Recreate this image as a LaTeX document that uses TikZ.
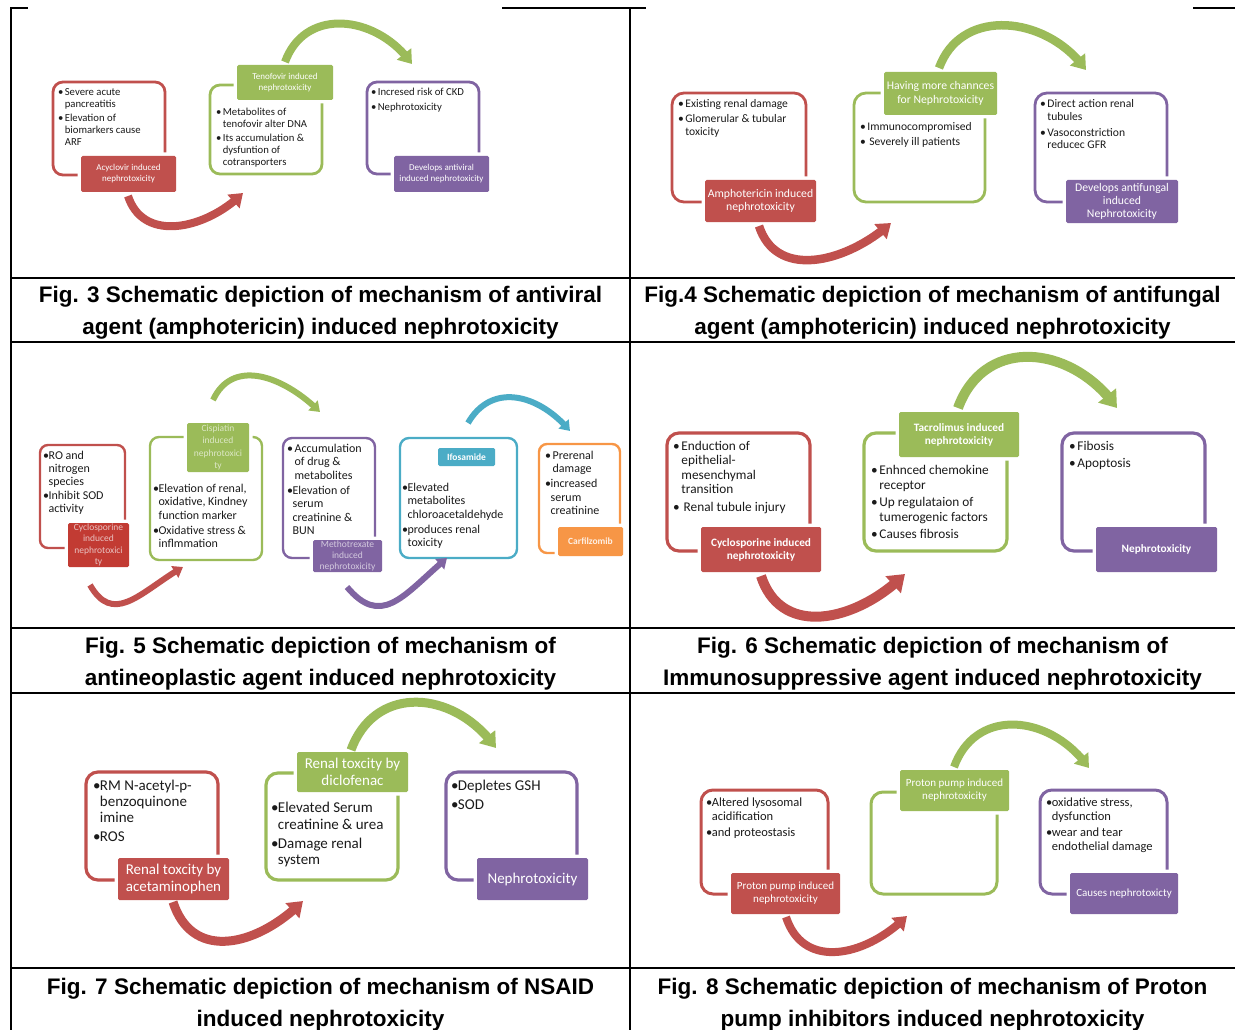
\documentclass[tikz,border=0pt]{standalone}
\usepackage{fontspec}
\setmainfont{Carlito}
\newfontfamily\capfont{Liberation Sans}
\usetikzlibrary{arrows.meta,bending}
\definecolor{cR}{HTML}{C0504D}
\definecolor{cG}{HTML}{9BBB59}
\definecolor{cP}{HTML}{8064A2}
\definecolor{cA}{HTML}{4BACC6}
\definecolor{cO}{HTML}{F79646}
\definecolor{cRd}{HTML}{C23B33}
\definecolor{txtc}{HTML}{1A1A1A}
\newcommand\FL{\rule{0pt}{0.85em}}
\newcommand\bs{\makebox[0.62em][l]{\textbullet}}
\newcommand\hs{\hspace*{0.62em}}
\newcommand\bt{\makebox[0.45em][l]{\textbullet}}
\newcommand\indT{\hspace*{0.45em}}
\newcommand\OB[7]{\node[obox=#2, minimum width={(#5-#3)*1pt}, minimum height={(#6-#4)*1pt}, #7] (#1) at ({(#3+#5)/2},{-(#4+#6)/2}) {};}
\newcommand\LB[8]{\node[lbox=#2, minimum width={(#5-#3)*1pt}, minimum height={(#6-#4)*1pt}, #7] (#1) at ({(#3+#5)/2},{-(#4+#6)/2}) {#8};}
\tikzset{
  gridl/.style={line width=2.3pt, black},
  obox/.style={draw=#1, line width=2.8pt, rounded corners=10pt, inner sep=0pt},
  lbox/.style={fill=#1, rounded corners=1.5pt, preaction={draw=white, line width=7pt}, text=white, align=center, inner sep=0pt},
  txt/.style={inner sep=0pt, align=left, anchor=north west, text=txtc},
  arr/.style 2 args={draw=#1, line width=#2, -{Triangle[length=0pt 1.6, width=0pt 2.2]}},
  captxt/.style={font=\capfont\bfseries\fontsize{22.5}{27}\selectfont, anchor=base, inner sep=0pt},
}
\begin{document}
\begin{tikzpicture}[x=1pt,y=1pt]
\useasboundingbox (0,0) rectangle (1235,-1030);
% ---------- table lines
\draw[gridl] (10,-8) -- (28,-8);
\draw[gridl] (502,-8) -- (646,-8);
\draw[gridl] (1193,-8) -- (1235,-8);
\draw[gridl] (11,-8) -- (11,-1030);
\draw[gridl] (630,-8) -- (630,-1030);
\foreach \yy in {278,342,628,693,968} {\draw[gridl] (11,-\yy) -- (1235,-\yy);}
% ---------- captions
\node[captxt] (c3a) at (320.5,-302) {Fig. 3 Schematic depiction of mechanism of antiviral};
\node[captxt] (c3b) at (320.5,-334) {agent (amphotericin) induced nephrotoxicity};
\node[captxt] (c4a) at (932.5,-302) {Fig.4 Schematic depiction of mechanism of antifungal};
\node[captxt] (c4b) at (932.5,-334) {agent (amphotericin) induced nephrotoxicity};
\node[captxt] (c5a) at (320.5,-653) {Fig. 5 Schematic depiction of mechanism of};
\node[captxt] (c5b) at (320.5,-685) {antineoplastic agent induced nephrotoxicity};
\node[captxt] (c6a) at (932.5,-653) {Fig. 6 Schematic depiction of mechanism of};
\node[captxt] (c6b) at (932.5,-685) {Immunosuppressive agent induced nephrotoxicity};
\node[captxt] (c7a) at (320.5,-994) {Fig. 7 Schematic depiction of mechanism of NSAID};
\node[captxt] (c7b) at (320.5,-1026) {induced nephrotoxicity};
\node[captxt] (c8a) at (932.5,-994) {Fig. 8 Schematic depiction of mechanism of Proton};
\node[captxt] (c8b) at (932.5,-1026) {pump inhibitors induced nephrotoxicity};

% ================= FIG 3
\OB{r3}{cR}{53}{82}{165}{175}{}
\OB{g3}{cG}{210}{85}{322}{174}{}
\OB{p3}{cP}{367}{82}{479}{174}{}
\LB{r3l}{cR}{81}{156}{176}{192}{font=\fontsize{9}{11}\selectfont}{Acyclovir induced\\nephrotoxicity}
\LB{g3l}{cG}{237}{65}{333}{100}{font=\fontsize{9}{11}\selectfont}{Tenofovir induced\\nephrotoxicity}
\LB{p3l}{cP}{394}{156}{489}{192}{font=\fontsize{9}{11}\selectfont}{Develops antiviral\\induced nephrotoxicity}
\node[txt, font=\fontsize{10.7}{12}\selectfont] (t3r) at (58,-86.6) {\FL\bs Severe acute\\\hs pancreatitis\\[2pt]\bs Elevation of\\\hs biomarkers cause\\\hs ARF};
\node[txt, font=\fontsize{10.7}{12}\selectfont] (t3g) at (216,-106.6) {\FL\bs Metabolites of\\\hs tenofovir alter DNA\\[2pt]\bs Its accumulation \&\\\hs dysfuntion of\\\hs cotransporters};
\node[txt, font=\fontsize{10.7}{12}\selectfont] (t3p) at (371,-86.6) {\FL\bs Incresed risk of CKD\\[3pt]\bs Nephrotoxicity};
\coordinate (a3s) at (128,-196); \coordinate (a3e) at (243,-193);
\draw[arr={cR}{8pt}] (a3s) to[out=-72,in=-135,looseness=1.12] (a3e);
\coordinate (b3s) at (285,-62); \coordinate (b3e) at (412,-64);
\draw[arr={cG}{8pt}] (b3s) to[out=70,in=125,looseness=1.2] (b3e);

% ================= FIG 4
\OB{r4}{cR}{672}{93}{806}{202}{rounded corners=12pt}
\OB{g4}{cG}{854}{93}{985}{202}{rounded corners=12pt}
\OB{p4}{cP}{1035}{93}{1167}{202}{rounded corners=12pt}
\LB{r4l}{cR}{705}{180}{816}{222}{font=\fontsize{11.7}{13.5}\selectfont}{Amphotericin induced\\nephrotoxicity}
\LB{g4l}{cG}{884}{72}{997}{115}{font=\fontsize{11.7}{13.5}\selectfont}{Having more channces\\for Nephrotoxicity}
\LB{p4l}{cP}{1066}{180}{1178}{223}{font=\fontsize{11.7}{13}\selectfont}{Develops antifungal\\induced\\Nephrotoxicity}
\node[txt, font=\fontsize{11.6}{13}\selectfont] (t4r) at (678,-97.6) {\FL\bs Existing renal damage\\[2pt]\bs Glomerular \& tubular\\\hs toxicity};
\node[txt, font=\fontsize{11.6}{13}\selectfont] (t4g) at (860,-120.6) {\FL\bs Immunocompromised\\[2pt]\bs\,Severely ill patients};
\node[txt, font=\fontsize{11.6}{12.5}\selectfont] (t4p) at (1040,-97.6) {\FL\bs Direct action renal\\\hs tubules\\[3.5pt]\bs Vasoconstriction\\\hs reducec GFR};
\coordinate (a4s) at (759,-226); \coordinate (a4e) at (891,-223);
\draw[arr={cR}{8.5pt}] (a4s) to[out=-72,in=-138,looseness=1.12] (a4e);
\coordinate (b4s) at (939,-68); \coordinate (b4e) at (1086,-70);
\draw[arr={cG}{8.5pt}] (b4s) to[out=70,in=125,looseness=1.15] (b4e);

% ================= FIG 5
\OB{r5}{cR}{40}{445}{125}{548}{rounded corners=8pt, line width=2.4pt}
\OB{g5}{cG}{150}{437}{262}{560}{rounded corners=9pt, line width=2.4pt}
\OB{p5}{cP}{283}{438}{375}{558}{rounded corners=9pt, line width=2.4pt}
\OB{c5}{cA}{400}{438}{517}{558}{rounded corners=9pt, line width=2.4pt}
\OB{o5}{cO}{539}{444}{620}{553}{rounded corners=8pt, line width=2.4pt}
\LB{r5l}{cRd}{68}{523}{129}{567}{font=\fontsize{9.5}{11.5}\selectfont, text=cR!35!white}{Cyclosporine\\induced\\nephrotoxici\\ty}
\LB{g5l}{cG}{187}{423}{249}{472}{font=\fontsize{9.5}{12.3}\selectfont, text=cG!35!white}{Cispiatin\\induced\\nephrotoxici\\ty}
\LB{p5l}{cP}{313}{540}{382}{572}{font=\fontsize{9.5}{11}\selectfont, text=cP!35!white}{Methotrexate\\induced\\nephrotoxicity}
\LB{c5l}{cA}{438}{448}{495}{466}{font=\bfseries\fontsize{9.5}{11}\selectfont}{Ifosamide}
\LB{o5l}{cO}{558}{527}{623}{556}{font=\bfseries\fontsize{9.5}{11}\selectfont, text=cO!15!white}{Carfilzomib}
\node[txt, font=\fontsize{12}{13.2}\selectfont] (t5r) at (43,-449) {\FL\bt RO and\\\indT nitrogen\\\indT species\\\bt Inhibit SOD\\\indT activity};
\node[txt, font=\fontsize{12}{13.5}\selectfont] (t5g) at (153,-482) {\FL\bt Elevation of renal,\\\indT oxidative, Kindney\\\indT function marker\\[1.5pt]\bt Oxidative stress \&\\\indT inflmmation};
\node[txt, font=\fontsize{12}{13.5}\selectfont] (t5p) at (287,-442) {\FL\bs Accumulation\\\hs of drug \&\\\hs metabolites\\[1.5pt]\bt Elevation of\\\indT serum\\\indT creatinine \&\\\indT BUN};
\node[txt, font=\fontsize{12}{13.5}\selectfont] (t5c) at (402,-481) {\FL\bt Elevated\\\indT metabolites\\\indT chloroacetaldehyde\\[1.5pt]\bt produces renal\\\indT toxicity};
\node[txt, font=\fontsize{12}{13.5}\selectfont] (t5o) at (545,-449) {\FL\bs Prerenal\\\hs damage\\[1.5pt]\bt increased\\\indT serum\\\indT creatinine};
\coordinate (a5s) at (90,-585); \coordinate (a5e) at (183,-567);
\draw[arr={cR}{6pt}] (a5s) to[out=-60,in=-150,looseness=1.3] (a5e);
\coordinate (b5s) at (213,-400); \coordinate (b5e) at (320,-412);
\draw[arr={cG}{6pt}] (b5s) to[out=65,in=135,looseness=1.15] (b5e);
\coordinate (d5s) at (347,-587); \coordinate (d5e) at (447,-558);
\draw[arr={cP}{6pt}] (d5s) to[out=-50,in=-140,looseness=1.35] (d5e);
\coordinate (e5s) at (468,-423); \coordinate (e5e) at (570,-431);
\draw[arr={cA}{6pt}] (e5s) to[out=60,in=130,looseness=1.2] (e5e);

% ================= FIG 6
\OB{r6}{cR}{667}{433}{810}{551}{rounded corners=12pt, line width=3.2pt}
\OB{g6}{cG}{864}{433}{1007}{551}{rounded corners=12pt, line width=3.2pt}
\OB{p6}{cP}{1062}{433}{1205}{551}{rounded corners=12pt, line width=3.2pt}
\LB{r6l}{cR}{701}{527}{821}{572}{font=\bfseries\fontsize{11.3}{13}\selectfont}{Cyclosporine induced\\nephrotoxicity}
\LB{g6l}{cG}{899}{412}{1019}{457}{font=\bfseries\fontsize{11.3}{13}\selectfont}{Tacrolimus induced\\nephrotoxicity}
\LB{p6l}{cP}{1096}{527}{1217}{572}{font=\bfseries\fontsize{11.3}{13}\selectfont}{Nephrotoxicity}
\node[txt, font=\fontsize{13.3}{14.5}\selectfont] (t6r) at (673,-438.7) {\FL\bs Enduction of\\\hs epithelial-\\\hs mesenchymal\\\hs transition\\[3pt]\bs\,Renal tubule injury};
\node[txt, font=\fontsize{13.3}{15}\selectfont] (t6g) at (871,-462.7) {\FL\bs Enhnced chemokine\\\hs receptor\\[2pt]\bs Up regulataion of\\\hs tumerogenic factors\\[2pt]\bs Causes fibrosis};
\node[txt, font=\fontsize{13.3}{14.5}\selectfont] (t6p) at (1069,-438.7) {\FL\bs Fibosis\\[2.5pt]\bs Apoptosis};
\coordinate (a6s) at (761,-576); \coordinate (a6e) at (905,-574);
\draw[arr={cR}{10pt}] (a6s) to[out=-72,in=-135,looseness=1.18] (a6e);
\coordinate (b6s) at (958,-408); \coordinate (b6e) at (1117,-408);
\draw[arr={cG}{10pt}] (b6s) to[out=70,in=125,looseness=1.25] (b6e);

% ================= FIG 7
\OB{r7}{cR}{86}{772}{218}{880}{rounded corners=12pt, line width=3.2pt}
\OB{g7}{cG}{266}{773}{398}{880}{rounded corners=12pt, line width=3.2pt}
\OB{p7}{cP}{446}{772}{577}{880}{rounded corners=12pt, line width=3.2pt}
\LB{r7l}{cR}{118}{858}{229}{900}{font=\fontsize{15}{17}\selectfont}{Renal toxcity by\\acetaminophen}
\LB{g7l}{cG}{297}{752}{408}{792}{font=\fontsize{15}{16.5}\selectfont}{Renal toxcity by\\diclofenac}
\LB{p7l}{cP}{477}{858}{588}{900}{font=\fontsize{15}{17}\selectfont}{Nephrotoxicity}
\node[txt, font=\fontsize{15}{16}\selectfont] (t7r) at (93,-777.25) {\FL\bt RM N-acetyl-p-\\\indT benzoquinone\\\indT imine\\[3pt]\bt ROS};
\node[txt, font=\fontsize{15}{16.5}\selectfont] (t7g) at (271,-799.75) {\FL\bt Elevated Serum\\\indT creatinine \& urea\\[2.5pt]\bt Damage renal\\\indT system};
\node[txt, font=\fontsize{15}{16}\selectfont] (t7p) at (451,-777.25) {\FL\bt Depletes GSH\\[3pt]\bt SOD};
\coordinate (a7s) at (173,-902); \coordinate (a7e) at (303,-901);
\draw[arr={cR}{9pt}] (a7s) to[out=-72,in=-135,looseness=1.25] (a7e);
\coordinate (b7s) at (351,-750); \coordinate (b7e) at (496,-748);
\draw[arr={cG}{9pt}] (b7s) to[out=70,in=125,looseness=1.25] (b7e);

% ================= FIG 8
\OB{r8}{cR}{701}{790}{828}{894}{rounded corners=12pt, line width=3pt}
\OB{g8}{cG}{871}{792}{997}{894}{rounded corners=12pt, line width=3pt}
\OB{p8}{cP}{1040}{790}{1167}{894}{rounded corners=12pt, line width=3pt}
\LB{r8l}{cR}{731}{873}{840}{914}{font=\fontsize{11}{13}\selectfont}{Proton pump induced\\nephrotoxicity}
\LB{g8l}{cG}{900}{770}{1009}{811}{font=\fontsize{11}{13}\selectfont}{Proton pump induced\\nephrotoxicity}
\LB{p8l}{cP}{1070}{873}{1178}{914}{font=\fontsize{11}{13}\selectfont}{Causes nephrotoxicty}
\node[txt, font=\fontsize{12.5}{14}\selectfont] (t8r) at (706,-795.4) {\FL\bt Altered lysosomal\\\indT acidification\\[2pt]\bt and proteostasis};
\node[txt, font=\fontsize{12.5}{14}\selectfont] (t8p) at (1046,-795.4) {\FL\bt oxidative stress,\\\indT dysfunction\\[2pt]\bt wear and tear\\\indT endothelial damage};
\coordinate (a8s) at (786,-917); \coordinate (a8e) at (907,-916);
\draw[arr={cR}{8pt}] (a8s) to[out=-72,in=-135,looseness=1.2] (a8e);
\coordinate (b8s) at (954,-767); \coordinate (b8e) at (1089,-768);
\draw[arr={cG}{8pt}] (b8s) to[out=70,in=125,looseness=1.23] (b8e);
\end{tikzpicture}
\end{document}
